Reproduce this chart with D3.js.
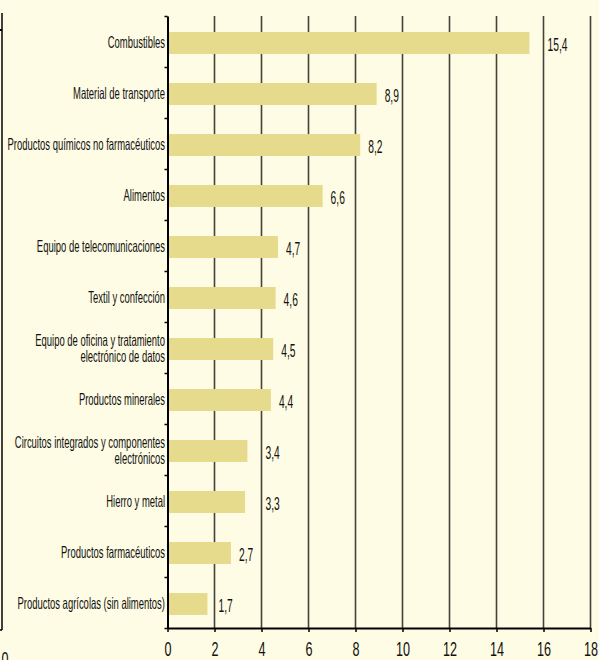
<!DOCTYPE html>
<html>
<head>
<meta charset="utf-8">
<script src="https://cdn.jsdelivr.net/npm/d3@7"></script>
<style>
  body { margin: 0; background: #fefce4; }
  text { font-family: "Liberation Sans", Arial, sans-serif; fill: #111; }
</style>
</head>
<body>
<div id="chart"></div>
<script>
const categories = [
  "Combustibles",
  "Material de transporte",
  "Productos químicos no farmacéuticos",
  "Alimentos",
  "Equipo de telecomunicaciones",
  "Textil y confección",
  "Equipo de oficina y tratamiento\nelectrónico de datos",
  "Productos minerales",
  "Circuitos integrados y componentes\nelectrónicos",
  "Hierro y metal",
  "Productos farmacéuticos",
  "Productos agrícolas (sin alimentos)"
];
const values = [15.4, 8.9, 8.2, 6.6, 4.7, 4.6, 4.5, 4.4, 3.4, 3.3, 2.7, 1.7];
const xTicks = [0, 2, 4, 6, 8, 10, 12, 14, 16, 18];

const data = categories.map((c, i) => ({ cat: c, val: values[i] }));

const width = 599,
      height = 660,
      margin = ({ top: 16, right: 8, bottom: 32, left: 167.5 });

const sx = 0.58;  // squeeze text horizontally, like the narrow font in the original
const vsx = 0.57; // same for the value labels

let svg = d3.select("#chart")
    .append("svg")
    .attr("width", width)
    .attr("height", height);

let x = d3.scaleLinear()
    .domain([0, 18])
    .range([margin.left, 590.5]);

let y = d3.scaleBand()
    .domain(categories)
    .range([margin.top, height - margin.bottom])
    .paddingInner(0.57)
    .paddingOuter(0.285);

// band boundaries for the y ticks
let yEdge = d3.scaleLinear()
    .domain([0, categories.length])
    .range([margin.top, height - margin.bottom]);

// vertical grid lines
let grid = xTicks.filter(d => d > 0);
svg.append("g")
    .selectAll("line")
    .data(grid)
    .join("line")
    .attr("x1", d => x(d))
    .attr("x2", d => x(d))
    .attr("y1", margin.top)
    .attr("y2", height - margin.bottom)
    .attr("stroke", "#45443a")
    .attr("stroke-width", 1.6);

// bars
svg.append("g")
    .selectAll("rect")
    .data(data)
    .join("rect")
    .attr("fill", "#e6da8c")
    .attr("x", x(0))
    .attr("y", d => y(d.cat) + 1.5)
    .attr("width", d => x(d.val) - x(0))
    .attr("height", y.bandwidth());

// value labels, pushed past a grid line if they would sit on it
svg.append("g")
    .selectAll("text")
    .data(data)
    .join("text")
    .attr("dy", "0.35em")
    .style("font-size", "18px")
    .text(d => d3.format(".1f")(d.val).replace(".", ","))
    .each(function(d) {
        let w = this.getComputedTextLength() * vsx;
        let lx = x(d.val) + 8;
        let hit = grid.map(g => x(g)).find(gx => gx >= lx - 3 && gx <= lx + w + 1);
        if (hit !== undefined) lx = hit + 4;
        d3.select(this).attr("transform",
            `translate(${lx},${y(d.cat) + y.bandwidth() / 2 + 3}) scale(${vsx},1)`);
    });

// y axis: line + ticks at band edges
let yAxis = svg.append("g")
    .attr("transform", `translate(${margin.left},0)`)
    .call(d3.axisLeft(yEdge).ticks(categories.length).tickSize(3).tickSizeOuter(0).tickFormat(""));
yAxis.select(".domain").attr("stroke", "#000").attr("stroke-width", 2);
yAxis.selectAll(".tick line").attr("stroke", "#000").attr("stroke-width", 1.5);

// category labels
let lab = svg.append("g")
    .selectAll("text")
    .data(data)
    .join("text")
    .attr("text-anchor", "end")
    .attr("transform", d => `translate(${margin.left - 2.5},${y(d.cat) + y.bandwidth() / 2 + 1}) scale(${sx},1)`)
    .style("font-size", "16.3px");

lab.each(function(d) {
    let lines = d.cat.split("\n");
    let t = d3.select(this);
    lines.forEach((l, i) => {
        t.append("tspan")
            .attr("x", 0)
            .attr("y", (i - (lines.length - 1) / 2) * 15.5)
            .attr("dy", "0.35em")
            .text(l);
    });
});

// x axis
let xAxis = svg.append("g")
    .attr("transform", `translate(0,${height - margin.bottom})`)
    .call(d3.axisBottom(x).tickValues(xTicks).tickSize(4).tickSizeOuter(0));
xAxis.select(".domain").attr("stroke", "#000").attr("stroke-width", 2);
xAxis.selectAll(".tick line").attr("stroke", "#000").attr("stroke-width", 1.5);
xAxis.selectAll(".tick text")
    .attr("y", 13)
    .attr("transform", `scale(0.6,1)`)
    .style("font-size", "21px")
    .style("fill", "#111");

// edge of the neighbouring chart on the left
svg.append("line")
    .attr("x1", 2).attr("x2", 2)
    .attr("y1", 13).attr("y2", 630)
    .attr("stroke", "#000").attr("stroke-width", 1.5);
svg.append("line")
    .attr("x1", 0).attr("x2", 2)
    .attr("y1", 30).attr("y2", 30)
    .attr("stroke", "#000").attr("stroke-width", 2);
svg.append("line")
    .attr("x1", 0).attr("x2", 2)
    .attr("y1", 630).attr("y2", 630)
    .attr("stroke", "#000").attr("stroke-width", 1.5);
svg.append("text")
    .attr("transform", "translate(5,666) scale(0.6,1)")
    .attr("text-anchor", "middle")
    .style("font-size", "21px")
    .text("0");
</script>
</body>
</html>
